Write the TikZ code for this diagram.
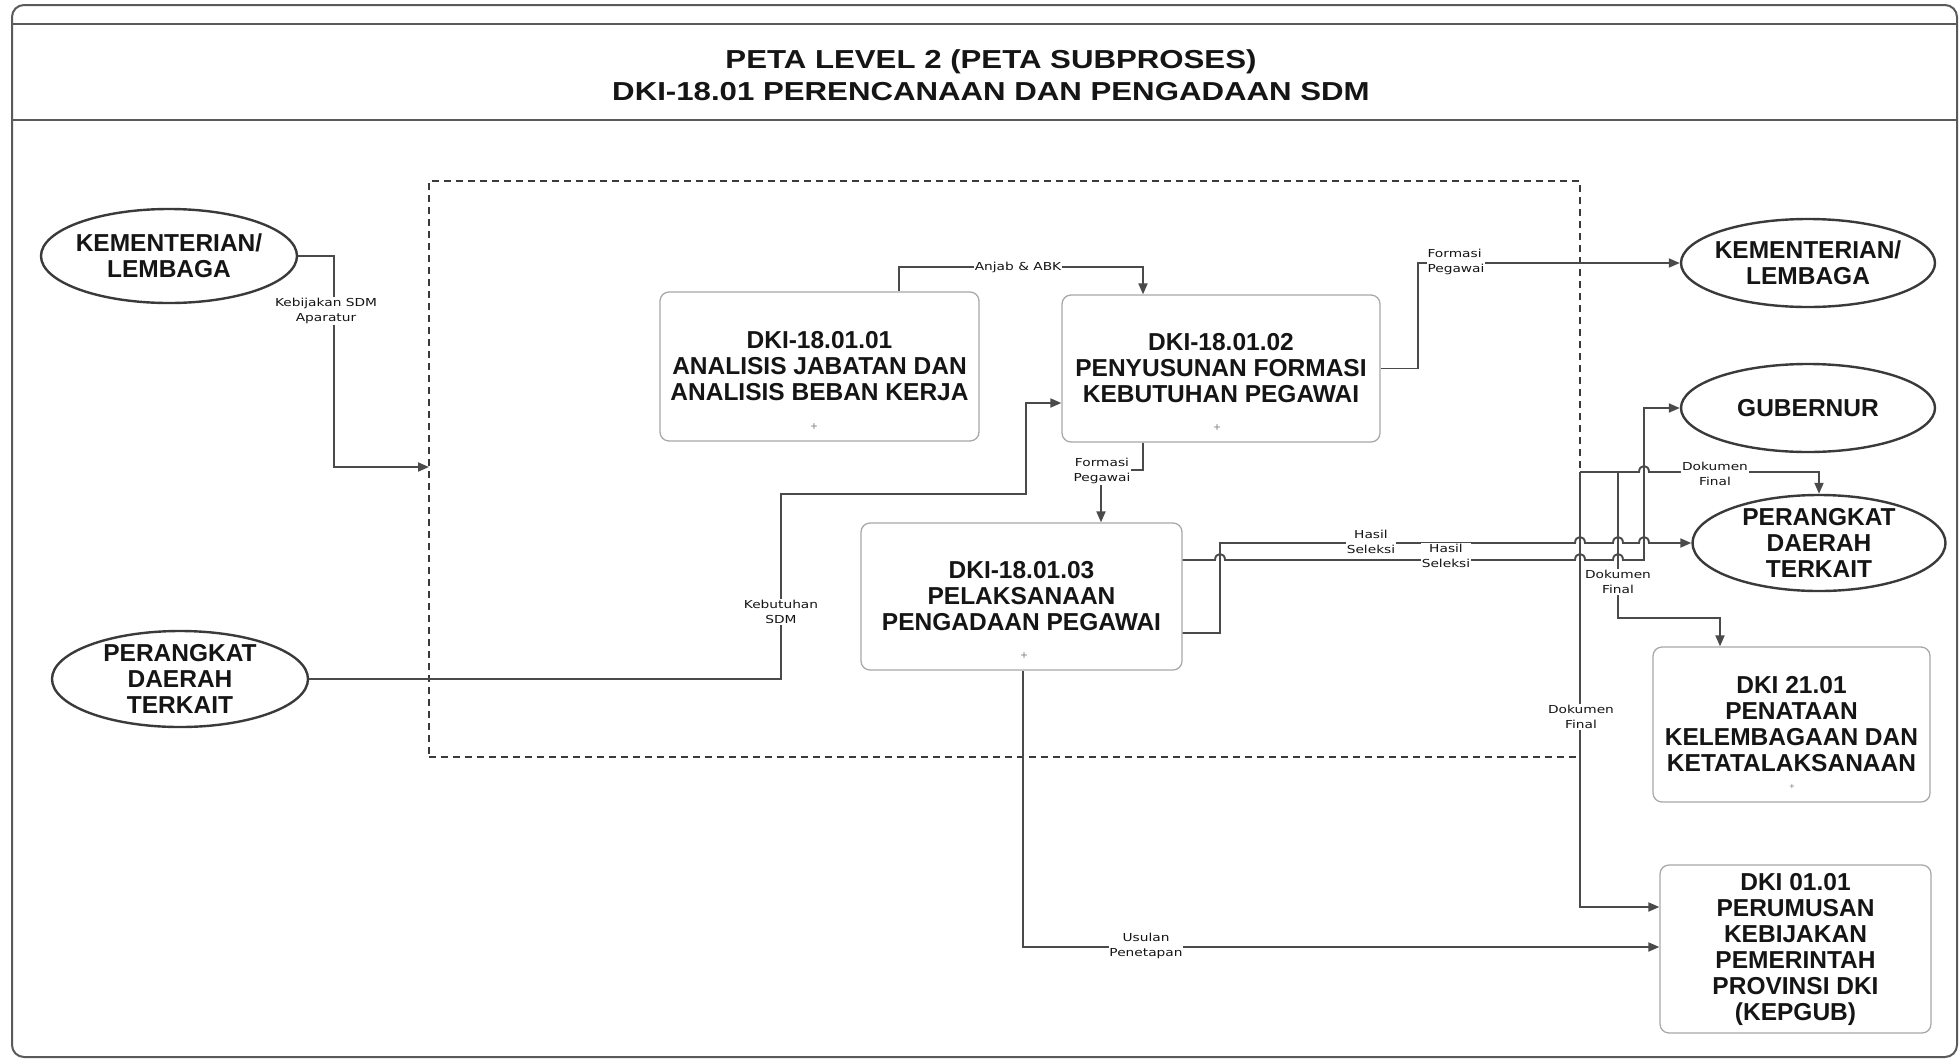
\documentclass[tikz,border=0pt]{standalone}
\usepackage{fontspec}
\setmainfont{Liberation Sans}
\newfontfamily\ttlfont[FakeStretch=1.2]{Liberation Sans}
\newfontfamily\lblfont[FakeStretch=1.25]{DejaVu Sans}
\usetikzlibrary{shapes.geometric,arrows.meta}
\definecolor{linec}{HTML}{4A4A4A}
\definecolor{ellc}{HTML}{3A3A3A}
\definecolor{boxc}{HTML}{A8A8A8}
\definecolor{framec}{HTML}{5A5A5A}
\definecolor{txtc}{HTML}{151515}
\newcommand\ndfont{\bfseries\fontsize{24.5}{26}\selectfont}
\newcommand\lbfont{\lblfont\fontsize{11}{15}\selectfont}
\begin{document}
\begin{tikzpicture}[x=1pt,y=-1pt,
 ell/.style={ellipse, draw=ellc, line width=2.4pt, inner sep=-8pt, align=center, font=\ndfont, text=txtc},
 procbox/.style={rectangle, rounded corners=9pt, draw=boxc, line width=1.3pt, align=center, font=\ndfont, text=txtc, inner sep=0pt},
 conn/.style={draw=linec, line width=1.9pt, -{Triangle[length=11pt,width=9pt]}},
 lbl/.style={fill=white, inner sep=0.8pt, align=center, font=\lbfont, text=txtc},
 plus/.style={font=\fontsize{12}{12}\selectfont, text=gray, inner sep=0pt},
]
\useasboundingbox (0,0) rectangle (1960,1061);
% frame
\draw[framec, line width=2pt, rounded corners=12pt] (12,5) rectangle (1957,1057);
\draw[framec, line width=2pt] (12,24) -- (1957,24);
\draw[framec, line width=2pt] (12,120) -- (1957,120);
\node[font=\ttlfont\bfseries\fontsize{26}{32.5}\selectfont, align=center, text=txtc] (title) at (991,75) {PETA LEVEL 2 (PETA SUBPROSES)\\DKI-18.01 PERENCANAAN DAN PENGADAAN SDM};
% subprocess boundary
\node[draw=ellc, line width=1.6pt, dash pattern=on 7pt off 5pt, minimum width=1151pt, minimum height=576pt, inner sep=0pt] (sub) at (1004.5,469) {};
% nodes
\node[ell, minimum width=256pt, minimum height=94pt] (kl1) at (169,256) {KEMENTERIAN/\\LEMBAGA};
\node[ell, minimum width=256pt, minimum height=96pt] (pd1) at (180,679) {PERANGKAT\\DAERAH\\TERKAIT};
\node[procbox, minimum width=319pt, minimum height=149pt] (b1) at (819.5,366.5) {DKI-18.01.01\\ANALISIS JABATAN DAN\\ANALISIS BEBAN KERJA};
\node[plus] (p1) at (814,427) {+};
\node[procbox, minimum width=318pt, minimum height=147pt] (b2) at (1221,368.5) {DKI-18.01.02\\PENYUSUNAN FORMASI\\KEBUTUHAN PEGAWAI};
\node[plus] (p2) at (1217,428) {+};
\node[procbox, minimum width=321pt, minimum height=147pt] (b3) at (1021.5,596.5) {DKI-18.01.03\\PELAKSANAAN\\PENGADAAN PEGAWAI};
\node[plus] (p3) at (1024,656) {+};
\node[ell, minimum width=254pt, minimum height=88pt] (kl2) at (1808,263) {KEMENTERIAN/\\LEMBAGA};
\node[ell, minimum width=254pt, minimum height=88pt] (gub) at (1808,408) {GUBERNUR};
\node[ell, minimum width=253pt, minimum height=96pt] (pd2) at (1819,543) {PERANGKAT\\DAERAH\\TERKAIT};
\node[procbox, minimum width=277pt, minimum height=155pt] (d21) at (1791.5,724.5) {DKI 21.01\\PENATAAN\\KELEMBAGAAN DAN\\KETATALAKSANAAN};
\node[plus, font=\fontsize{9}{9}\selectfont] (p4) at (1792,787) {+};
\node[procbox, minimum width=271pt, minimum height=168pt] (d01) at (1795.5,949) {DKI 01.01\\PERUMUSAN\\KEBIJAKAN\\PEMERINTAH\\PROVINSI DKI\\(KEPGUB)};
% helper coordinates
\coordinate (subin) at (429,467);
\coordinate (xa) at (899,0);
\coordinate (xb) at (1143,0);
\coordinate (xc) at (1101,0);
\coordinate (xu) at (1023,0);
\coordinate (x21) at (1720,0);
\coordinate (ya) at (0,403);
\coordinate (yb1) at (0,560);
\coordinate (yb2) at (0,633);
\coordinate (yd) at (0,907);
\coordinate (yu) at (0,947);
\coordinate (dsrc) at (1580,472);
\coordinate (dbr) at (1618,472);
% connectors
\draw[conn] (kl1.east) -- (334,256) -- (334,467) -- (subin);
\draw[conn] (b1.north -| xa) |- (1143,267) -- (b2.north -| xb);
\draw[conn] (b2.east) -| (1418,263) -- (kl2.west);
\draw[conn] (b2.south -| xb) |- (1101,470) -- (b3.north -| xc);
\draw[conn] (pd1.east) -| (781,494) -| (1026,403) -- (b2.west |- ya);
\draw[conn] (b3.east |- yb1) -- (1215,560) .. controls (1215,552) and (1225,552) .. (1225,560)
  -- (1575,560) .. controls (1575,552) and (1585,552) .. (1585,560)
  -- (1613,560) .. controls (1613,552) and (1623,552) .. (1623,560)
  -- (1644,560) -- (1644,408) -- (gub.west);
\draw[conn] (b3.east |- yb2) -- (1220,633) -- (1220,543)
  -- (1575,543) .. controls (1575,535) and (1585,535) .. (1585,543)
  -- (1613,543) .. controls (1613,535) and (1623,535) .. (1623,543)
  -- (1639,543) .. controls (1639,535) and (1649,535) .. (1649,543)
  -- (pd2.west);
\draw[conn] (dsrc) -- (1580,907) -- (d01.west |- yd);
\draw[conn] (dsrc) -- (1639,472) .. controls (1639,464) and (1649,464) .. (1649,472) -- (1819,472) -- (pd2.north);
\draw[conn] (dbr) -- (1618,618) -| (d21.north -| x21);
\draw[conn] (b3.south -| xu) |- (d01.west |- yu);
% labels
\node[lbl] (lkeb) at (326,311) {Kebijakan SDM\\Aparatur};
\node[lbl] (lanj) at (1018,267) {Anjab \& ABK};
\node[lbl, align=left] (lfp1) at (1456,262) {Formasi\\Pegawai};
\node[lbl] (lfp2) at (1102,471) {Formasi\\Pegawai};
\node[lbl] (lkbt) at (781,612) {Kebutuhan\\SDM};
\node[lbl] (lhs1) at (1371,542) {Hasil\\Seleksi};
\node[lbl] (lhs2) at (1446,556) {Hasil\\Seleksi};
\node[lbl] (ldf1) at (1715,474) {Dokumen\\Final};
\node[lbl] (ldf2) at (1618,582) {Dokumen\\Final};
\node[lbl] (ldf3) at (1581,717) {Dokumen\\Final};
\node[lbl] (lus) at (1146,946) {Usulan\\Penetapan};
\end{tikzpicture}
\end{document}
